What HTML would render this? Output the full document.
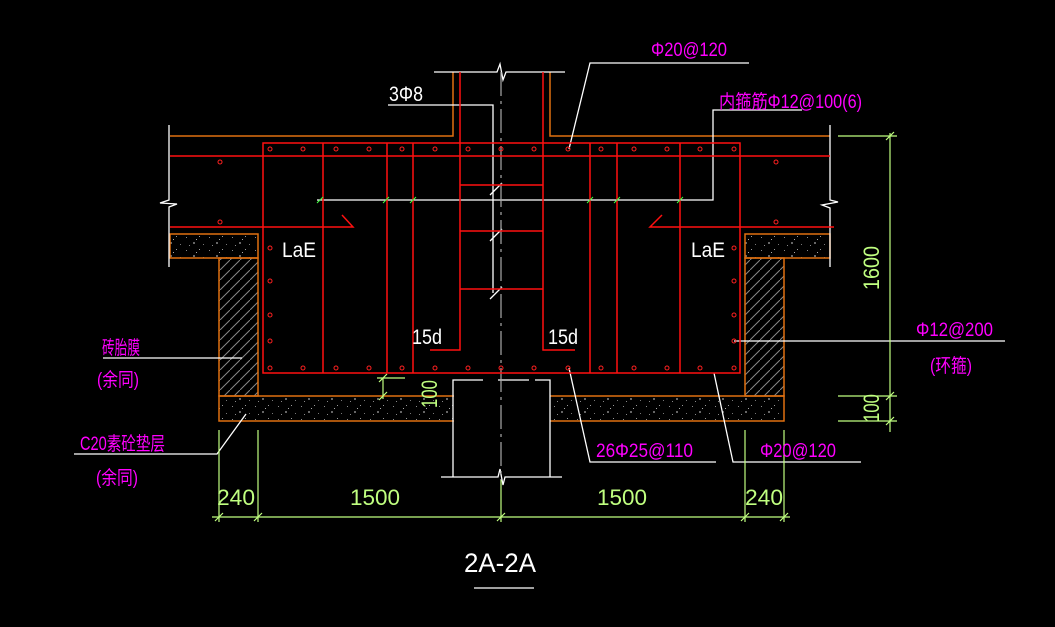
<!DOCTYPE html>
<html><head><meta charset="utf-8"><style>
html,body{margin:0;padding:0;background:#000;width:1055px;height:627px;overflow:hidden}
svg{display:block}
text{font-family:"Liberation Sans","Noto Sans CJK SC",sans-serif}
</style></head><body>
<svg width="1055" height="627" viewBox="0 0 1055 627" xmlns="http://www.w3.org/2000/svg">
<defs>
<pattern id="sp" width="23" height="13" patternUnits="userSpaceOnUse">
<rect x="2" y="3" width="1" height="1" fill="#888"/><rect x="9" y="8" width="2" height="2" fill="#666"/>
<rect x="15" y="2" width="1" height="1" fill="#999"/><rect x="19" y="10" width="1" height="1" fill="#777"/>
<rect x="5" y="11" width="1" height="1" fill="#888"/><rect x="12" y="5" width="1" height="1" fill="#aaa"/>
</pattern>
<pattern id="hat" width="10" height="10" patternUnits="userSpaceOnUse">
<path d="M0 10 L10 0" stroke="#888" stroke-width="1"/>
</pattern>
</defs>
<rect width="1055" height="627" fill="#000"/>
<!-- slabs / concrete -->
<g fill="url(#sp)" stroke="#e07010" stroke-width="1.5">
<rect x="170" y="234" width="88" height="24"/>
<rect x="745" y="234" width="85" height="24"/>
<rect x="219" y="396" width="565" height="25"/>
</g>
<g fill="url(#hat)" stroke="#e07010" stroke-width="1.5">
<rect x="219" y="258" width="39" height="138"/>
<rect x="745" y="258" width="39" height="138"/>
</g>
<g stroke="#e07010" stroke-width="1.5" fill="none">
<path d="M170 136 H453 V72"/><path d="M550 72 V136 H830"/>
</g>
<!-- column stub below -->
<rect x="454" y="380" width="96" height="98" fill="#000"/>
<g stroke="#fff" stroke-width="1.3" fill="none">
<path d="M453 477 V380 H483 M498 380 H529 M535 380 H550 V477"/>
<path d="M441 477 H498 L500 469 L503 485 L505 477 H562"/>
<path d="M434 72 H497 L500 64 L503 80 L506 72 H565"/>
<path d="M169 125 V200 L160 203 L177 204 L169 207 V267"/>
<path d="M830 125 V200 L838 202 L822 205 L830 208 V267"/>
<path d="M388 105 H493 V293"/>
<path d="M317 200 H713 V110 H802"/>
<path d="M569 149 L590 63 H749"/>
<path d="M103 358 H242"/>
<path d="M74 454 H217 L246 414"/>
<path d="M569 368 L590 462 H716"/>
<path d="M714 373 L733 462 H861"/>
<path d="M734 341 H1005"/>
<path d="M474 588 H534"/>
<path d="M490 195 L502 183 M490 241 L502 229 M490 299 L502 287"/>
</g>
<line x1="501" y1="72" x2="501" y2="480" stroke="#aaa" stroke-width="1.2" stroke-dasharray="24 5 3 5"/>
<!-- rebar red -->
<g stroke="#ff1010" stroke-width="1.5" fill="none">
<rect x="263" y="143" width="477" height="230"/>
<path d="M170 156 H830"/>
<path d="M170 227 H353 L342 215"/><path d="M834 227 H650 L662 215"/>
<path d="M460 72 V350 H430"/><path d="M543 72 V350 H575"/>
<path d="M323 143 V373 M387 143 V373 M413 143 V373 M590 143 V373 M617 143 V373 M680 143 V373"/>
<path d="M460 185 H543 M460 231 H543 M460 289 H543"/>
</g>
<g stroke="#ff2020" stroke-width="1" fill="none">
<circle cx="270" cy="149" r="2"/><circle cx="303" cy="149" r="2"/><circle cx="336" cy="149" r="2"/><circle cx="369" cy="149" r="2"/><circle cx="402" cy="149" r="2"/><circle cx="435" cy="149" r="2"/><circle cx="468" cy="149" r="2"/><circle cx="501" cy="149" r="2"/><circle cx="534" cy="149" r="2"/><circle cx="568" cy="149" r="2"/><circle cx="601" cy="149" r="2"/><circle cx="634" cy="149" r="2"/><circle cx="667" cy="149" r="2"/><circle cx="700" cy="149" r="2"/><circle cx="734" cy="149" r="2"/>
<circle cx="270" cy="368" r="2"/><circle cx="303" cy="368" r="2"/><circle cx="336" cy="368" r="2"/><circle cx="369" cy="368" r="2"/><circle cx="402" cy="368" r="2"/><circle cx="435" cy="368" r="2"/><circle cx="468" cy="368" r="2"/><circle cx="501" cy="368" r="2"/><circle cx="534" cy="368" r="2"/><circle cx="568" cy="368" r="2"/><circle cx="601" cy="368" r="2"/><circle cx="634" cy="368" r="2"/><circle cx="667" cy="368" r="2"/><circle cx="700" cy="368" r="2"/><circle cx="734" cy="368" r="2"/>
<circle cx="270" cy="248" r="2"/><circle cx="270" cy="281" r="2"/><circle cx="270" cy="315" r="2"/><circle cx="270" cy="341" r="2"/>
<circle cx="734" cy="248" r="2"/><circle cx="734" cy="281" r="2"/><circle cx="734" cy="315" r="2"/><circle cx="734" cy="341" r="2"/>
<circle cx="220" cy="162" r="2"/><circle cx="220" cy="222" r="2"/><circle cx="776" cy="162" r="2"/><circle cx="776" cy="222" r="2"/>
</g>
<g stroke="#40ff40" stroke-width="1"><path d="M317 203 L323 197 M383 203 L389 197 M410 203 L416 197 M587 203 L593 197 M614 203 L620 197 M677 203 L683 197"/></g>
<!-- dimensions -->
<g stroke="#c0ff80" stroke-width="1.2" fill="none">
<path d="M212 517 H790"/>
<path d="M219 430 V522 M258 430 V522 M501 480 V522 M745 430 V522 M784 430 V522"/>
<path d="M215 521 L223 513 M254 521 L262 513 M497 521 L505 513 M741 521 L749 513 M780 521 L788 513"/>
<path d="M890 133 V432"/>
<path d="M838 136 H897 M838 396 H897 M838 421 H897"/>
<path d="M886 140 L894 132 M886 400 L894 392 M886 425 L894 417"/>
<path d="M377 378 H405 M383 378 V399 M379 382 L387 374 M379 400 L387 392"/>
</g>
<g fill="#c0ff80" font-size="22">
<text x="217" y="505" textLength="38" lengthAdjust="spacingAndGlyphs">240</text>
<text x="350" y="505" textLength="50" lengthAdjust="spacingAndGlyphs">1500</text>
<text x="597" y="505" textLength="50" lengthAdjust="spacingAndGlyphs">1500</text>
<text x="745" y="505" textLength="38" lengthAdjust="spacingAndGlyphs">240</text>
<text transform="translate(879,290) rotate(-90)" textLength="44" lengthAdjust="spacingAndGlyphs">1600</text>
<text transform="translate(879,422) rotate(-90)" textLength="28" lengthAdjust="spacingAndGlyphs">100</text>
<text transform="translate(437,408) rotate(-90)" textLength="28" lengthAdjust="spacingAndGlyphs">100</text>
</g>
<!-- white labels -->
<g fill="#fff" font-size="21">
<text x="389" y="101" textLength="34" lengthAdjust="spacingAndGlyphs">3Φ8</text>
<text x="282" y="257" textLength="34" lengthAdjust="spacingAndGlyphs">LaE</text>
<text x="691" y="257" textLength="34" lengthAdjust="spacingAndGlyphs">LaE</text>
<text x="412" y="344" textLength="30" lengthAdjust="spacingAndGlyphs">15d</text>
<text x="548" y="344" textLength="30" lengthAdjust="spacingAndGlyphs">15d</text>
<text x="464" y="572" font-size="27" textLength="72" lengthAdjust="spacingAndGlyphs">2A-2A</text>
</g>
<g fill="#ff00ff" font-size="19">
<text x="651" y="56" textLength="76" lengthAdjust="spacingAndGlyphs">Φ20@120</text>
<text x="719" y="108" textLength="143" lengthAdjust="spacingAndGlyphs">内箍筋Φ12@100(6)</text>
<text x="916" y="336" textLength="77" lengthAdjust="spacingAndGlyphs">Φ12@200</text>
<text x="930" y="372" textLength="42" lengthAdjust="spacingAndGlyphs">(环箍)</text>
<text x="102" y="354" textLength="38" lengthAdjust="spacingAndGlyphs">砖胎膜</text>
<text x="97" y="386" textLength="42" lengthAdjust="spacingAndGlyphs">(余同)</text>
<text x="80" y="450" textLength="85" lengthAdjust="spacingAndGlyphs">C20素砼垫层</text>
<text x="96" y="484" textLength="42" lengthAdjust="spacingAndGlyphs">(余同)</text>
<text x="596" y="457" textLength="97" lengthAdjust="spacingAndGlyphs">26Φ25@110</text>
<text x="760" y="457" textLength="76" lengthAdjust="spacingAndGlyphs">Φ20@120</text>
</g>
</svg>
</body></html>
